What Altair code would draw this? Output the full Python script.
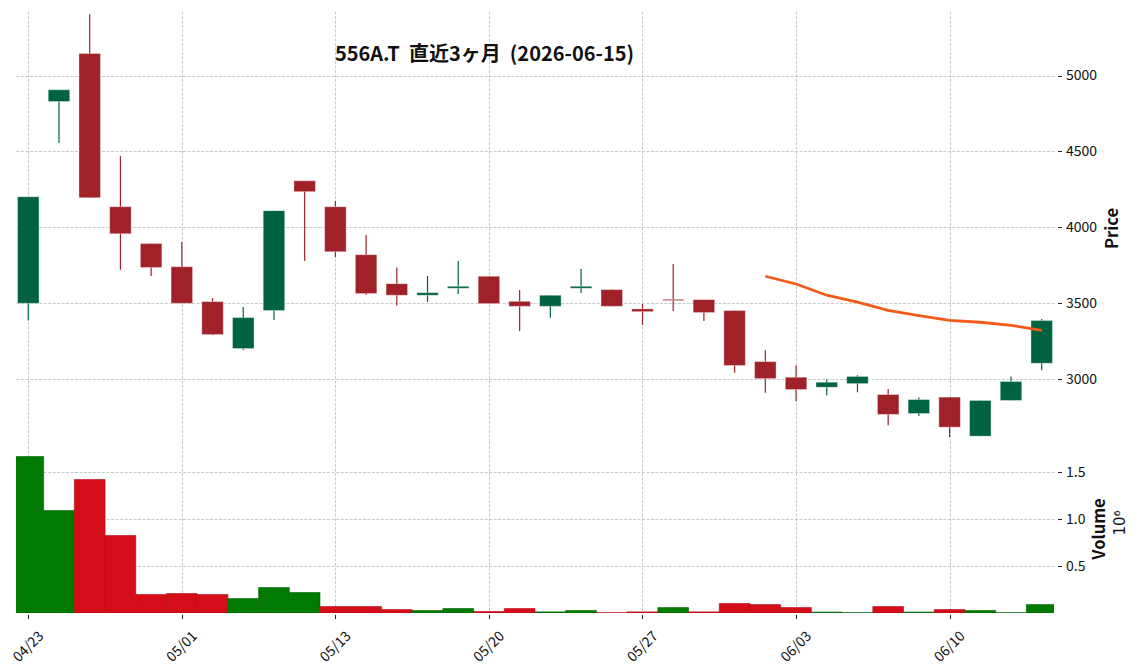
import json
import altair as alt
import pandas as pd

# ---------------- data ----------------
dates = ["04/23", "04/24", "04/27", "04/28", "04/30", "05/01", "05/07", "05/08",
         "05/11", "05/12", "05/13", "05/14", "05/15", "05/18", "05/19", "05/20",
         "05/21", "05/22", "05/25", "05/26", "05/27", "05/28", "05/29", "06/01",
         "06/02", "06/03", "06/04", "06/05", "06/08", "06/09", "06/10", "06/11",
         "06/12", "06/15"]
opens = [3500, 4829, 5145, 4136, 3893, 3741, 3511, 3202, 3452, 4307, 4136, 3820,
         3629, 3553, 3599, 3678, 3513, 3480, 3599, 3590, 3463, 3526, 3524, 3452,
         3116, 3013, 2947, 2971, 2899, 2774, 2882, 2625, 2860, 3105]
highs = [4202, 4906, 5404, 4469, 3893, 3904, 3535, 3476, 4110, 4307, 4173, 3950,
         3735, 3680, 3778, 3678, 3588, 3553, 3726, 3590, 3496, 3759, 3524, 3452,
         3191, 3092, 2998, 3026, 2936, 2879, 2882, 2860, 3018, 3397]
lows = [3386, 4555, 4195, 3721, 3680, 3500, 3290, 3193, 3390, 3778, 3803, 3555,
        3485, 3509, 3561, 3498, 3318, 3404, 3568, 3480, 3357, 3450, 3384, 3042,
        2910, 2855, 2895, 2914, 2697, 2757, 2618, 2625, 2860, 3059]
closes = [4202, 4906, 4195, 3958, 3735, 3500, 3294, 3406, 4110, 4235, 3840, 3564,
          3553, 3570, 3612, 3498, 3480, 3553, 3612, 3480, 3445, 3518, 3439, 3090,
          3004, 2932, 2980, 3018, 2768, 2866, 2684, 2860, 2985, 3386]
volumes = [1665000, 1090000, 1420000, 824000, 197000, 207000, 197000, 154000,
           271000, 218000, 69000, 69000, 37000, 27000, 48000, 16000, 48000, 12000,
           27000, 3000, 12000, 58000, 12000, 101000, 90000, 58000, 10000, 3000,
           69000, 10000, 37000, 27000, 3000, 90000]
volume_dir = ["up", "up", "down", "down", "down", "down", "down", "up", "up", "up",
              "down", "down", "down", "up", "up", "down", "down", "up", "up", "down",
              "down", "up", "down", "down", "down", "down", "up", "up", "down", "up",
              "down", "up", "up", "up"]
ma25 = [None] * 24 + [3678, 3627, 3553, 3507, 3454, 3419, 3388, 3375, 3355, 3322]

title_text = "556A.T\u00a0 直近3ヶ月\u00a0 (2026-06-15)"
x_tick_values = [0, 5, 10, 15, 20, 25, 30]
price_ticks = [3000, 3500, 4000, 4500, 5000]
volume_ticks = [500000, 1000000, 1500000]
exponent_text = "10⁶"

# ---------------- table ----------------
df = pd.DataFrame({
    "i": list(range(len(dates))),
    "date": dates,
    "open": opens,
    "high": highs,
    "low": lows,
    "close": closes,
    "volume": volumes,
    "vdir": volume_dir,
    "ma": ma25,
})

UP_C, DOWN_C = "#006340", "#A02128"
VUP_C, VDOWN_C = "#007a00", "#d50d18"
VUP_E, VDOWN_E = "#006400", "#b20b15"

W = 1038
H_PRICE = 430
H_VOL = 172

x_scale = alt.Scale(domain=[-0.4, 33.4], nice=False, zero=False)
price_scale = alt.Scale(domain=[2593, 5425], nice=False, zero=False)
vol_scale = alt.Scale(domain=[0, 1830000], nice=False, zero=False)

CJK = "Noto Sans CJK JP"
grid_kw = dict(gridColor="#bdbdbd", gridDash=[3, 1.5], gridWidth=0.8)
lab_kw = dict(labelFont=CJK, labelFontSize=14, labelColor="#111111")
ttl_kw = dict(titleFont=CJK, titleFontWeight="bold",
              titleFontSize=16.5, titleColor="#111111", titleAngle=270,
              titleAlign="center", titleBaseline="middle")

label_expr = json.dumps(dates) + "[datum.value]"

price_x_axis = alt.Axis(values=x_tick_values, labels=False, ticks=False,
                        domain=False, title=None, grid=True, **grid_kw)
vol_x_axis = alt.Axis(values=x_tick_values, labelExpr=label_expr, title=None,
                      grid=True, domain=False, ticks=True, tickSize=4,
                      tickColor="#222222", offset=1.5, labelAngle=315,
                      labelAlign="center", labelBaseline="middle",
                      labelPadding=28, **lab_kw, **grid_kw)

price_y_axis = alt.Axis(orient="right", values=price_ticks, title="Price",
                        format="d", domain=False, grid=True, tickSize=4,
                        tickColor="#222222", offset=3.5, labelPadding=4,
                        titleX=54.5, titleY=217, **lab_kw, **ttl_kw, **grid_kw)
vol_y_axis = alt.Axis(orient="right", values=volume_ticks, title="Volume",
                      labelExpr="format(datum.value / 1000000, '.1f')",
                      domain=False, grid=True, tickSize=4, tickColor="#222222",
                      offset=3.5, labelPadding=4, titleX=41.5, titleY=87.5,
                      **lab_kw, **ttl_kw, **grid_kw)

base = alt.Chart(df).transform_calculate(
    ccol=f"datum.close > datum.open ? '{UP_C}' : '{DOWN_C}'",
    vcol=f"datum.vdir == 'up' ? '{VUP_C}' : '{VDOWN_C}'",
    vedge=f"datum.vdir == 'up' ? '{VUP_E}' : '{VDOWN_E}'",
    x0="datum.i - 0.35",
    x1="datum.i + 0.35",
    v0="datum.i - 0.5",
    v1="datum.i + 0.5",
    lo="min(datum.open, datum.close)",
    hi="max(datum.open, datum.close)",
)

wicks = base.mark_rule(strokeWidth=1.2, clip=True).encode(
    x=alt.X("i:Q", scale=x_scale, axis=price_x_axis),
    y=alt.Y("low:Q", scale=price_scale, axis=price_y_axis),
    y2="high:Q",
    color=alt.Color("ccol:N", scale=None),
)

bodies = base.mark_bar(clip=True, stroke="#ffffff", strokeWidth=0.6,
                       strokeOpacity=0.6).encode(
    x=alt.X("x0:Q", scale=x_scale),
    x2="x1:Q",
    y=alt.Y("lo:Q", scale=price_scale),
    y2="hi:Q",
    color=alt.Color("ccol:N", scale=None),
)

ma_line = base.mark_line(color="#f25a1a", strokeWidth=2.8, clip=True).encode(
    x=alt.X("i:Q", scale=x_scale),
    y=alt.Y("ma:Q", scale=price_scale),
)

title_mark = alt.Chart(pd.DataFrame({"t": [title_text]})).mark_text(
    font=CJK, fontWeight="bold", fontSize=20, color="#111111",
    align="center", baseline="middle",
).encode(text="t:N", x=alt.value(468.5), y=alt.value(43.7))

price = alt.layer(wicks, bodies, ma_line, title_mark).properties(
    width=W, height=H_PRICE)

vol_bars = base.mark_bar(clip=True, strokeWidth=0.6).encode(
    x=alt.X("v0:Q", scale=x_scale, axis=vol_x_axis),
    x2="v1:Q",
    y=alt.Y("volume:Q", scale=vol_scale, axis=vol_y_axis),
    y2=alt.datum(0),
    color=alt.Color("vcol:N", scale=None),
    stroke=alt.Stroke("vedge:N", scale=None),
)

exp_mark = alt.Chart(pd.DataFrame({"t": [exponent_text]})).mark_text(
    font="DejaVu Sans", fontSize=15, color="#111111", angle=270,
    align="center", baseline="middle",
).encode(text="t:N", x=alt.value(1104), y=alt.value(82))

volume = alt.layer(vol_bars, exp_mark).properties(width=W, height=H_VOL)

chart = alt.vconcat(price, volume, spacing=0).properties(
    padding={"left": 10, "top": 11, "right": 5, "bottom": 5},
    background="white",
).configure_view(stroke=None)

chart.save("out.html", embed_options={"renderer": "svg", "actions": False})
